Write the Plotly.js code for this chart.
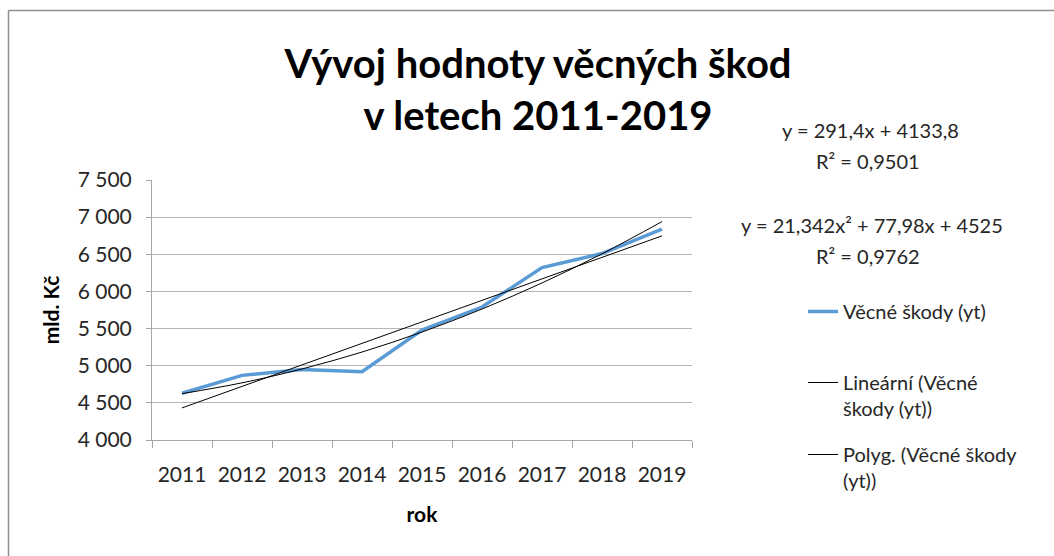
<!DOCTYPE html>
<html>
<head>
<meta charset="utf-8">
<script src="https://cdn.plot.ly/plotly-3.0.1.min.js"></script>
<style>
html,body{margin:0;padding:0;background:#fff;}
#chart{width:1054px;height:556px;}
</style>
</head>
<body>
<div id="chart"></div>
<script>
// ---- data ----
const years = ['2011','2012','2013','2014','2015','2016','2017','2018','2019'];
const vecneSkody = [4630, 4870, 4950, 4920, 5480, 5790, 6320, 6510, 6840];
const seriesName = 'Věcné škody (yt)';
const linName = 'Lineární (Věcné<br>škody (yt))';
const polyName = 'Polyg. (Věcné škody<br>(yt))';
const eqLinear = 'y = 291,4x + 4133,8';
const r2Linear = 'R² = 0,9501';
const eqPoly = 'y = 21,342x² + 77,98x + 4525';
const r2Poly = 'R² = 0,9762';
const titleLines = ['Vývoj hodnoty věcných škod', 'v letech 2011-2019'];
const xTitle = 'rok';
const yTitle = 'mld. Kč';

// ---- least-squares trendlines computed from the data (as Excel does) ----
const xs = years.map((_, i) => i + 1);
function solve3(A, b) {
  const M = A.map((r, i) => r.concat([b[i]]));
  for (let c = 0; c < 3; c++) {
    let p = c;
    for (let r = c + 1; r < 3; r++) if (Math.abs(M[r][c]) > Math.abs(M[p][c])) p = r;
    [M[c], M[p]] = [M[p], M[c]];
    for (let r = 0; r < 3; r++) {
      if (r === c) continue;
      const f = M[r][c] / M[c][c];
      for (let k = c; k < 4; k++) M[r][k] -= f * M[c][k];
    }
  }
  return M.map((r, i) => r[3] / r[i]);
}
const n = xs.length;
const sx = xs.reduce((a, b) => a + b, 0);
const sy = vecneSkody.reduce((a, b) => a + b, 0);
const sxx = xs.reduce((a, x) => a + x * x, 0);
const sxy = xs.reduce((a, x, i) => a + x * vecneSkody[i], 0);
const slope = (n * sxy - sx * sy) / (n * sxx - sx * sx);
const icpt = (sy - slope * sx) / n;
const linFit = xs.map(x => slope * x + icpt);
const sx3 = xs.reduce((a, x) => a + x ** 3, 0);
const sx4 = xs.reduce((a, x) => a + x ** 4, 0);
const sx2y = xs.reduce((a, x, i) => a + x * x * vecneSkody[i], 0);
const [c0, c1, c2] = solve3([[n, sx, sxx], [sx, sxx, sx3], [sxx, sx3, sx4]], [sy, sxy, sx2y]);
const polyFit = xs.map(x => c0 + c1 * x + c2 * x * x);

const FONT = 'Lato, "Open Sans", sans-serif';
const TXT = '#262626';
const GRID = '#b5b5b5';

// pixel -> paper helpers (plot area 152..692 x 180..440)
const L = 152, R = 692, T = 180, B = 440;
const px = v => (v - L) / (R - L);
const py = v => (B - v) / (B - T);

const traces = [
  {x: years, y: vecneSkody, type: 'scatter', mode: 'lines', name: seriesName,
   line: {color: '#5B9BD5', width: 3.5}, legend: 'legend', showlegend: true},
  {x: years, y: linFit, type: 'scatter', mode: 'lines', name: linName,
   line: {color: '#000000', width: 1}, legend: 'legend2', showlegend: true},
  {x: years, y: polyFit, type: 'scatter', mode: 'lines', name: polyName,
   line: {color: '#000000', width: 1, shape: 'spline', smoothing: 1}, legend: 'legend3', showlegend: true}
];

const legendBase = {
  xanchor: 'left', yanchor: 'top', valign: 'top',
  font: {family: FONT, size: 20, color: TXT},
  bgcolor: 'rgba(0,0,0,0)', borderwidth: 0, visible: true
};

const layout = {
  width: 1054, height: 556, autosize: false,
  showlegend: true,
  paper_bgcolor: '#ffffff', plot_bgcolor: '#ffffff',
  margin: {l: L, r: 1054 - R, t: T, b: 556 - B},
  separators: ', ',
  font: {family: FONT, color: TXT},
  title: {
    text: '<b>' + titleLines[0] + '</b><br><b>' + titleLines[1] + '</b>',
    x: 538 / 1054, xanchor: 'center', xref: 'container',
    y: 1 - 78 / 556, yanchor: 'top', yref: 'container',
    font: {family: FONT, size: 40, color: '#000000'}
  },
  xaxis: {
    type: 'category', range: [-0.5, 8.5], tickson: 'boundaries', ticks: 'outside', ticklen: 7,
    tickcolor: '#a6a6a6', showline: true, linecolor: '#a6a6a6', linewidth: 1,
    showgrid: false, zeroline: false, ticklabelstandoff: 16,
    tickfont: {family: FONT, size: 21, color: TXT},
    title: {text: '<b>' + xTitle + '</b>', font: {family: FONT, size: 21, color: '#000'}, standoff: 22}
  },
  yaxis: {
    range: [4000, 7500], tick0: 4000, dtick: 500, separatethousands: true,
    tickformat: ',d', ticks: 'outside', ticklen: 5, tickcolor: '#a6a6a6',
    showline: true, linecolor: '#a6a6a6', linewidth: 1, ticklabelstandoff: 10,
    showgrid: true, gridcolor: GRID, gridwidth: 1, zeroline: false,
    tickfont: {family: FONT, size: 21, color: TXT},
    title: {text: '<b>' + yTitle + '</b>', font: {family: FONT, size: 21, color: '#000'}, standoff: 12}
  },
  legend: Object.assign({}, legendBase, {x: px(803), y: py(292)}),
  legend2: Object.assign({}, legendBase, {x: px(803), y: py(363)}),
  legend3: Object.assign({}, legendBase, {x: px(803), y: py(435)}),
  annotations: [
    {text: eqLinear, x: px(870), y: py(130)},
    {text: r2Linear, x: px(868), y: py(161)},
    {text: eqPoly, x: px(872), y: py(225)},
    {text: r2Poly, x: px(868), y: py(256)}
  ].map(a => Object.assign({xref: 'paper', yref: 'paper', xanchor: 'center', yanchor: 'middle',
    showarrow: false, font: {family: FONT, size: 20, color: TXT}}, a)),
  shapes: [
    {type: 'line', xref: 'paper', yref: 'paper', x0: px(8.5), x1: px(8.5), y0: py(556), y1: py(10.5),
     line: {color: '#8f8f8f', width: 1.5}},
    {type: 'line', xref: 'paper', yref: 'paper', x0: px(8.5), x1: px(1054), y0: py(10.5), y1: py(10.5),
     line: {color: '#8f8f8f', width: 1.5}}
  ]
};

Plotly.newPlot('chart', traces, layout, {displayModeBar: false, staticPlot: true});
</script>
</body>
</html>
